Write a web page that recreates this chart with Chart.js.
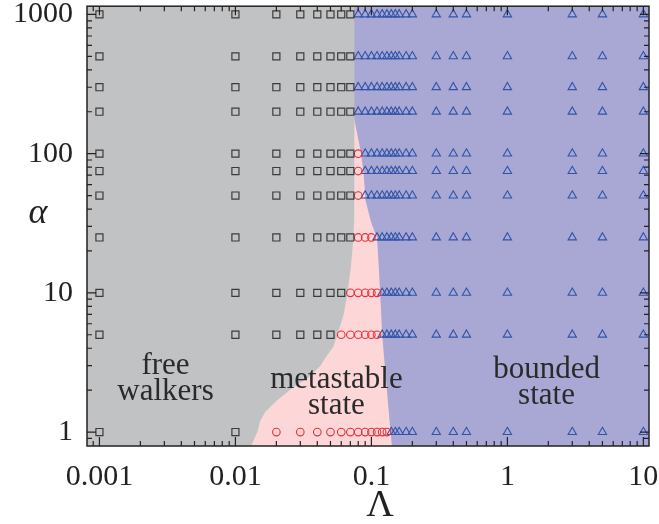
<!DOCTYPE html>
<html>
<head>
<meta charset="utf-8">
<title>Phase diagram</title>
<script src="https://cdn.jsdelivr.net/npm/chart.js@4.4.1/dist/chart.umd.min.js"></script>
<style>
  html, body { margin: 0; padding: 0; background: #fff; }
</style>
</head>
<body>
<canvas id="phaseChart" width="659" height="524"></canvas>
<script>
// simulated grid
const lambdaValues = [0.001, 0.01, 0.02, 0.03, 0.04, 0.05, 0.06, 0.07, 0.08, 0.09, 0.1, 0.11, 0.12, 0.13,
                      0.14, 0.15, 0.16, 0.18, 0.2, 0.3, 0.4, 0.5, 1, 3, 5, 10];
const alphaValues = [1000, 500, 300, 200, 100, 75, 50, 25, 10, 5, 1];
// one letter per lambda value: s = free walker, c = metastable, t = bounded
const stateRows = [
    'sssssssstttttttttttttttttt',
    'sssssssstttttttttttttttttt',
    'sssssssstttttttttttttttttt',
    'sssssssstttttttttttttttttt',
    'ssssssssctttttttttttttttttt'.slice(0, 26),
    'ssssssssctttttttttttttttttt'.slice(0, 26),
    'ssssssssctttttttttttttttttt'.slice(0, 26),
    'sssssssscccttttttttttttttt',
    'ssssssscccccttttttttttttttt'.slice(0, 26),
    'sssssscccccctttttttttttttt',
    'sscccccccccccctttttttttttt'
];

// phase regions (boundaries)
const grayLambda = [1e-4, 1e-4, 100, 100];
const grayAlpha = [0.1, 1e4, 1e4, 0.1];
const pinkLambda = [0.3, 0.075, 0.075, 0.0745, 0.0738, 0.0705, 0.0667, 0.0625, 0.0562, 0.0525, 0.0467, 0.0422,
                    0.0344, 0.0267, 0.0204, 0.0166, 0.0152, 0.0145, 0.0123, 0.3];
const pinkAlpha = [175, 175, 60, 35, 25, 15, 10, 7, 5, 4.1, 3.5, 3.0, 2.47, 2.1, 1.7, 1.4, 1.2, 1.0, 0.7, 0.7];
const blueLambda = [0.075, 0.075, 0.0776, 0.083, 0.0877, 0.0904, 0.0984, 0.104, 0.110, 0.113, 0.116, 0.120,
                    0.124, 0.128, 0.135, 0.143, 100, 100];
const blueAlpha = [1e4, 175, 147, 106, 72, 46.5, 33.4, 28.5, 25, 16, 10, 5, 3.4, 2.39, 1.3, 0.7, 0.7, 1e4];

const regionText = [['free', 'walkers'], ['metastable', 'state'], ['bounded', 'state']];
const regionTextLambda = [0.00306, 0.0553, 1.94];
const regionTextAlpha = [2.43, 1.9, 2.25];

function pointsFor(letter) {
    const pts = [];
    stateRows.forEach((row, i) => {
        for (let j = 0; j < lambdaValues.length; j++) {
            if (row[j] === letter) pts.push({ x: lambdaValues[j], y: alphaValues[i] });
        }
    });
    return pts;
}

function polygon(xs, ys) {
    return xs.map((x, i) => ({ x: x, y: ys[i] }));
}

function decadeLabel(v) {
    const p = Math.log10(v);
    if (Math.abs(p - Math.round(p)) > 1e-6) return '';
    return String(Number(Number(v).toPrecision(3)));
}

const serif = "'Liberation Serif', 'DejaVu Serif', serif";

const framePlugin = {
    id: 'frame',
    afterDatasetsDraw(chart) {
        const { ctx, chartArea: a, scales } = chart;
        ctx.save();

        // region names
        ctx.fillStyle = '#2a2a2a';
        ctx.font = '31px ' + serif;
        ctx.textAlign = 'center';
        ctx.textBaseline = 'middle';
        regionText.forEach((lines, i) => {
            const x = scales.x.getPixelForValue(regionTextLambda[i]);
            const y = scales.y.getPixelForValue(regionTextAlpha[i]);
            ctx.fillText(lines[0], x, y - 13);
            ctx.fillText(lines[1], x, y + 13);
        });

        // frame
        ctx.strokeStyle = '#222';
        ctx.lineWidth = 1.5;
        ctx.strokeRect(a.left, a.top, a.right - a.left, a.bottom - a.top);

        // inward ticks on all four sides
        ctx.lineWidth = 1.2;
        ctx.beginPath();
        for (let e = -4; e <= 3; e++) {
            for (let m = 1; m <= 9; m++) {
                const v = m * Math.pow(10, e);
                const len = m === 1 ? 9 : 5;
                const x = scales.x.getPixelForValue(v);
                if (x > a.left + 1 && x < a.right - 1) {
                    ctx.moveTo(x, a.bottom); ctx.lineTo(x, a.bottom - len);
                    ctx.moveTo(x, a.top); ctx.lineTo(x, a.top + len);
                }
                const y = scales.y.getPixelForValue(v);
                if (y > a.top + 1 && y < a.bottom - 1) {
                    ctx.moveTo(a.left, y); ctx.lineTo(a.left + len, y);
                    ctx.moveTo(a.right, y); ctx.lineTo(a.right - len, y);
                }
            }
        }
        ctx.stroke();

        // axis titles
        ctx.fillStyle = '#222';
        ctx.font = '38px ' + serif;
        ctx.fillText('Λ', (a.left + a.right) / 2 + 12, a.bottom + 60);
        ctx.font = 'italic 36px ' + serif;
        ctx.fillText('α', a.left - 49, a.top + 207);
        ctx.restore();
    }
};

const regionStyle = {
    type: 'scatter',
    showLine: true,
    fill: 'shape',
    borderWidth: 0,
    borderColor: 'transparent',
    pointRadius: 0,
    tension: 0
};

new Chart(document.getElementById('phaseChart'), {
    type: 'scatter',
    data: {
        datasets: [
            {
                label: 'free walkers',
                data: pointsFor('s'),
                pointStyle: 'rect',
                pointRadius: 5,
                borderColor: '#3b3b3b',
                backgroundColor: 'transparent',
                borderWidth: 1.2,
                clip: false
            },
            {
                label: 'metastable',
                data: pointsFor('c'),
                pointStyle: 'circle',
                pointRadius: 3.8,
                borderColor: '#e8303a',
                backgroundColor: 'transparent',
                borderWidth: 1.1,
                clip: false
            },
            {
                label: 'bounded',
                data: pointsFor('t'),
                pointStyle: 'triangle',
                pointRadius: 4.8,
                borderColor: '#3054a8',
                backgroundColor: 'transparent',
                borderWidth: 1.1,
                clip: false
            },
            Object.assign({ label: 'blue', data: polygon(blueLambda, blueAlpha), backgroundColor: '#a9a8d4' }, regionStyle),
            Object.assign({ label: 'pink', data: polygon(pinkLambda, pinkAlpha), backgroundColor: '#fdd7d7' }, regionStyle),
            Object.assign({ label: 'gray', data: polygon(grayLambda, grayAlpha), backgroundColor: '#c1c2c4' }, regionStyle)
        ]
    },
    options: {
        responsive: false,
        animation: false,
        events: [],
        layout: { padding: { left: 0, right: 10, top: 6, bottom: 0 } },
        plugins: {
            legend: { display: false },
            tooltip: { enabled: false }
        },
        scales: {
            x: {
                type: 'logarithmic',
                min: 0.00081,
                max: 11,
                grid: { display: false },
                border: { display: false },
                afterFit(scale) {
                    scale.height = 78;
                    scale.paddingLeft = 0;
                    scale.paddingRight = 0;
                },
                ticks: {
                    autoSkip: false,
                    maxRotation: 0,
                    padding: 5,
                    color: '#222',
                    font: { family: serif, size: 30 },
                    callback: (v) => decadeLabel(v)
                }
            },
            y: {
                type: 'logarithmic',
                min: 0.794,
                max: 1146,
                grid: { display: false },
                border: { display: false },
                afterFit(scale) {
                    scale.width = 87;
                    scale.paddingTop = 0;
                    scale.paddingBottom = 0;
                },
                ticks: {
                    autoSkip: false,
                    padding: 6,
                    color: '#222',
                    font: { family: serif, size: 30 },
                    callback: (v) => decadeLabel(v)
                }
            }
        }
    },
    plugins: [framePlugin]
});
</script>
</body>
</html>
